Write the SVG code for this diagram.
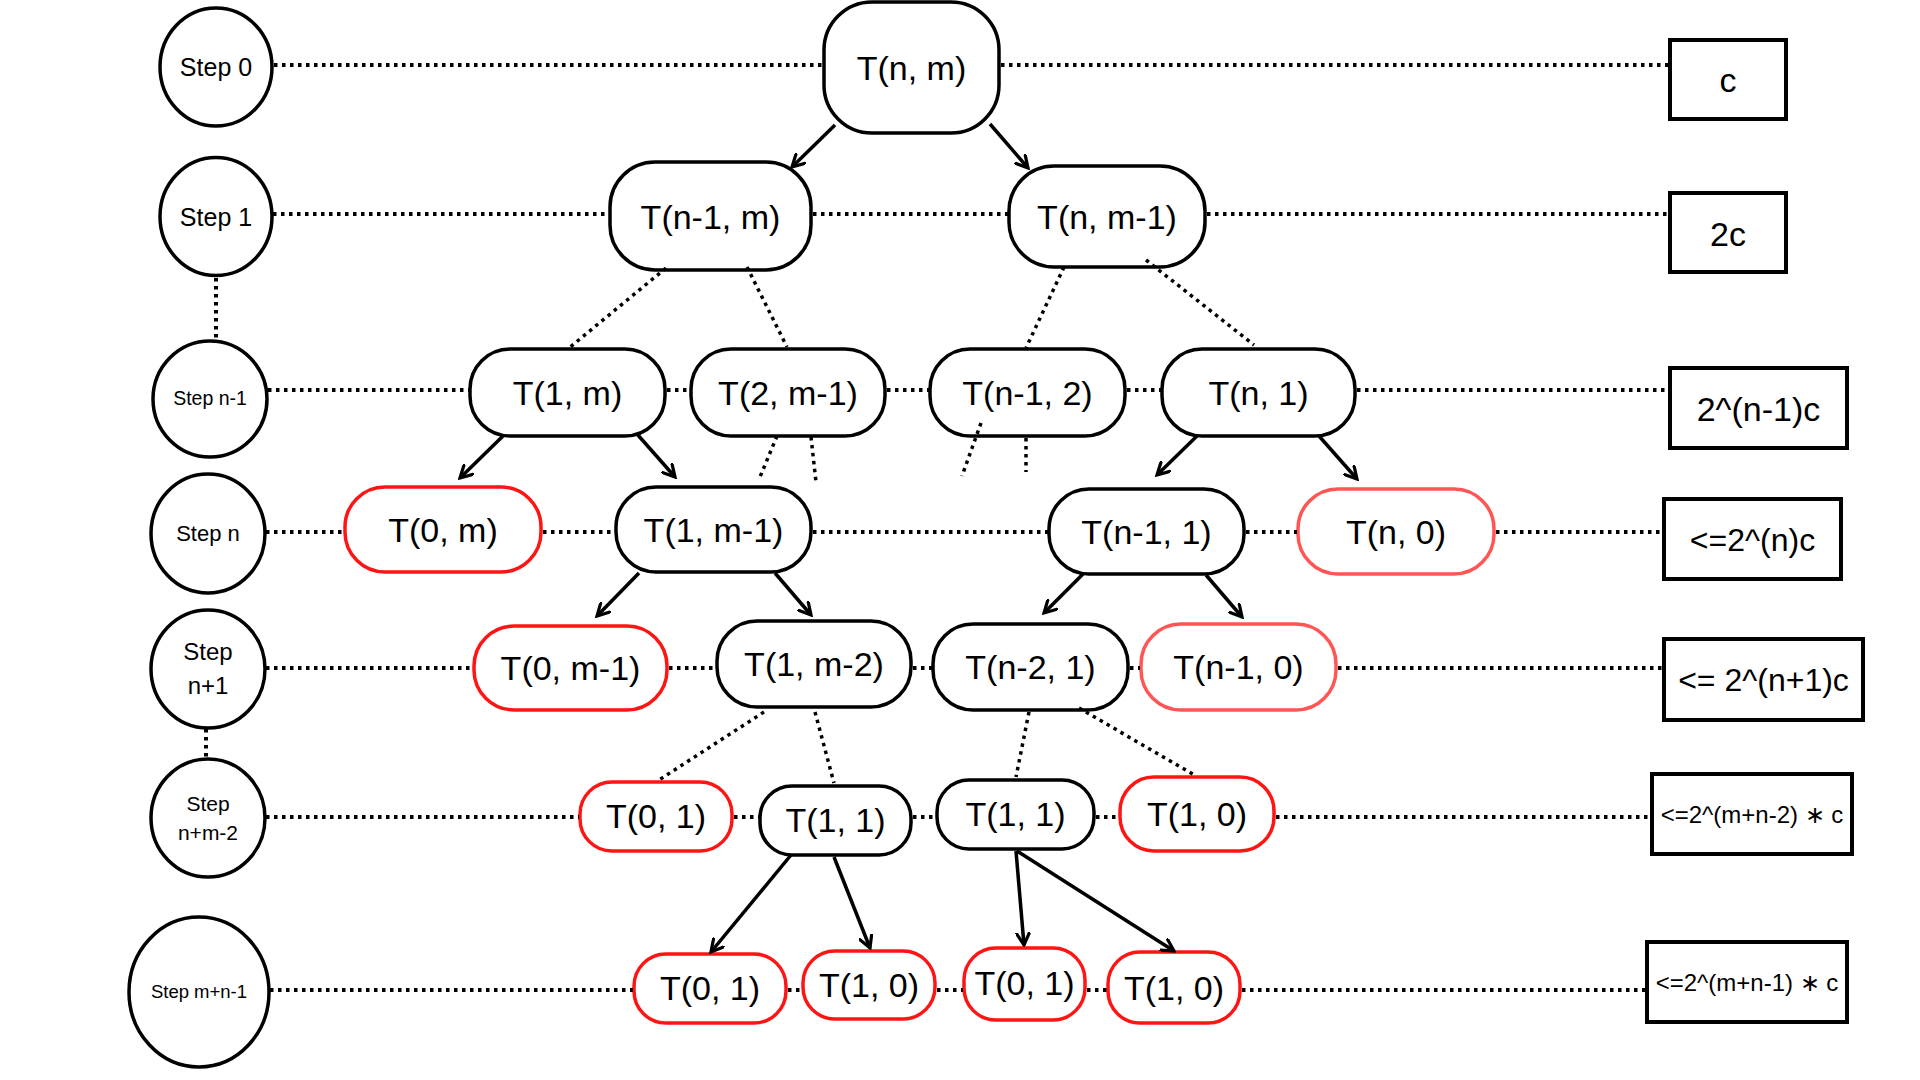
<svg xmlns="http://www.w3.org/2000/svg" width="1920" height="1080" viewBox="0 0 1920 1080">
<defs>
<marker id="arr" viewBox="0 0 14 14" refX="12" refY="7" markerWidth="15" markerHeight="15" markerUnits="userSpaceOnUse" orient="auto">
<path d="M1,1 L12,7 L1,13" fill="none" stroke="#000" stroke-width="3" stroke-linecap="round" stroke-linejoin="miter"/>
</marker>
<style>
text{font-family:"Liberation Sans",Arial,sans-serif;fill:#000;text-anchor:middle}
.step{fill:#fff;stroke:#000;stroke-width:3.5}
.nd{fill:#fff;stroke:#000;stroke-width:3.5}
.rd{fill:#fff;stroke:#ff1414;stroke-width:3.5}
.lr{fill:#fff;stroke:#ff5555;stroke-width:3.5}
.bx{fill:#fff;stroke:#000;stroke-width:4}
.nt{font-size:34px}
.dot{stroke:#000;stroke-width:4;stroke-dasharray:3.5 4.5;fill:none}
.ddot{stroke:#000;stroke-width:3.5;stroke-dasharray:3.5 4.5;fill:none}
.ar{stroke:#000;stroke-width:3.5;fill:none;marker-end:url(#arr)}
</style>
</defs>
<rect width="1920" height="1080" fill="#fff"/>

<g id="step-0"><ellipse class="step" cx="216" cy="67" rx="56" ry="59"/><text x="216" y="76" font-size="25">Step 0</text></g>
<g id="step-1"><ellipse class="step" cx="216" cy="216.5" rx="56" ry="59"/><text x="216" y="226" font-size="25">Step 1</text></g>
<g id="step-n-1"><ellipse class="step" cx="210" cy="399" rx="57" ry="58"/><text x="210" y="405" font-size="19.5">Step n-1</text></g>
<g id="step-n"><ellipse class="step" cx="208" cy="533.5" rx="57" ry="59.5"/><text x="208" y="541" font-size="22">Step n</text></g>
<g id="step-n+1"><ellipse class="step" cx="208" cy="669" rx="57" ry="59"/><text x="208" y="660" font-size="24">Step</text><text x="208" y="694" font-size="24">n+1</text></g>
<g id="step-n+m-2"><ellipse class="step" cx="208" cy="818" rx="57" ry="59"/><text x="208" y="811" font-size="21">Step</text><text x="208" y="840" font-size="21">n+m-2</text></g>
<g id="step-m+n-1"><ellipse class="step" cx="199" cy="992" rx="70" ry="75"/><text x="199" y="998" font-size="18.5">Step m+n-1</text></g>

<g id="n-T-n-m"><rect class="nd" x="824" y="2" width="175" height="131" rx="48"/><text class="nt" x="911.5" y="80">T(n, m)</text></g>

<g id="n-T-n1-m"><rect class="nd" x="610" y="162" width="201" height="108" rx="45"/><text class="nt" x="710.5" y="229">T(n-1, m)</text></g>
<g id="n-T-n-m1"><rect class="nd" x="1009" y="166" width="196" height="101" rx="45"/><text class="nt" x="1107" y="229">T(n, m-1)</text></g>

<g id="n-T-1-m"><rect class="nd" x="470" y="349" width="195" height="87" rx="40"/><text class="nt" x="567.5" y="405">T(1, m)</text></g>
<g id="n-T-2-m1"><rect class="nd" x="691" y="349" width="194" height="87" rx="40"/><text class="nt" x="788" y="405">T(2, m-1)</text></g>
<g id="n-T-n1-2"><rect class="nd" x="930" y="349" width="195" height="87" rx="40"/><text class="nt" x="1027.5" y="405">T(n-1, 2)</text></g>
<g id="n-T-n-1"><rect class="nd" x="1162" y="349" width="193" height="87" rx="40"/><text class="nt" x="1258.5" y="405">T(n, 1)</text></g>

<g id="n-T-0-m"><rect class="rd" x="345" y="487" width="196" height="85" rx="40"/><text class="nt" x="443" y="542">T(0, m)</text></g>
<g id="n-T-1-m1"><rect class="nd" x="616" y="487" width="195" height="85" rx="40"/><text class="nt" x="713.5" y="542">T(1, m-1)</text></g>
<g id="n-T-n1-1"><rect class="nd" x="1049" y="489" width="195" height="85" rx="40"/><text class="nt" x="1146.5" y="544">T(n-1, 1)</text></g>
<g id="n-T-n-0"><rect class="lr" x="1298" y="489" width="196" height="85" rx="40"/><text class="nt" x="1396" y="544">T(n, 0)</text></g>

<g id="n-T-0-m1"><rect class="rd" x="474" y="626" width="193" height="84" rx="40"/><text class="nt" x="570.5" y="680">T(0, m-1)</text></g>
<g id="n-T-1-m2"><rect class="nd" x="717" y="621" width="194" height="86" rx="40"/><text class="nt" x="814" y="676">T(1, m-2)</text></g>
<g id="n-T-n2-1"><rect class="nd" x="933" y="624" width="195" height="86" rx="40"/><text class="nt" x="1030.5" y="679">T(n-2, 1)</text></g>
<g id="n-T-n1-0"><rect class="lr" x="1141" y="624" width="195" height="86" rx="40"/><text class="nt" x="1238.5" y="679">T(n-1, 0)</text></g>

<g id="n-T-0-1-a"><rect class="rd" x="580" y="782" width="152" height="69" rx="32"/><text class="nt" x="656" y="828">T(0, 1)</text></g>
<g id="n-T-1-1-a"><rect class="nd" x="760" y="786" width="151" height="69" rx="32"/><text class="nt" x="835.5" y="832">T(1, 1)</text></g>
<g id="n-T-1-1-b"><rect class="nd" x="937" y="780" width="157" height="69" rx="32"/><text class="nt" x="1015.5" y="826">T(1, 1)</text></g>
<g id="n-T-1-0-a"><rect class="rd" x="1120" y="777" width="154" height="74" rx="34"/><text class="nt" x="1197" y="826">T(1, 0)</text></g>

<g id="n-T-0-1-b"><rect class="rd" x="634" y="954" width="152" height="69" rx="32"/><text class="nt" x="710" y="1000">T(0, 1)</text></g>
<g id="n-T-1-0-b"><rect class="rd" x="803" y="951" width="132" height="68" rx="32"/><text class="nt" x="869" y="997">T(1, 0)</text></g>
<g id="n-T-0-1-c"><rect class="rd" x="964" y="948" width="121" height="72" rx="32"/><text class="nt" x="1024.5" y="995">T(0, 1)</text></g>
<g id="n-T-1-0-c"><rect class="rd" x="1108" y="952" width="132" height="71" rx="32"/><text class="nt" x="1174" y="1000">T(1, 0)</text></g>

<g id="cost-0"><rect class="bx" x="1670" y="40" width="116" height="79"/><text class="nt" x="1728" y="91.5">c</text></g>
<g id="cost-1"><rect class="bx" x="1670" y="193" width="116" height="79"/><text class="nt" x="1728" y="246">2c</text></g>
<g id="cost-n-1"><rect class="bx" x="1670" y="368" width="177" height="80"/><text class="nt" x="1758.5" y="421">2^(n-1)c</text></g>
<g id="cost-n"><rect class="bx" x="1664" y="499" width="177" height="80"/><text x="1752.5" y="551" font-size="32">&lt;=2^(n)c</text></g>
<g id="cost-n+1"><rect class="bx" x="1664" y="639" width="199" height="81"/><text x="1763.5" y="691" font-size="32">&lt;= 2^(n+1)c</text></g>
<g id="cost-n+m-2"><rect class="bx" x="1652" y="774" width="200" height="80"/><text x="1752" y="823" font-size="24">&lt;=2^(m+n-2) ∗ c</text></g>
<g id="cost-m+n-1"><rect class="bx" x="1647" y="942" width="200" height="80"/><text x="1747" y="991" font-size="24">&lt;=2^(m+n-1) ∗ c</text></g>

<g id="connectors">
<path class="dot" d="M216,278 V338 M206,729 V758"/>
<path class="dot" d="M274,65 H823 M1001,65 H1669"/>
<path class="dot" d="M273,214 H609 M813,214 H1008 M1207,214 H1669"/>
<path class="dot" d="M268,390 H469 M667,390 H690 M887,390 H929 M1127,390 H1161 M1357,390 H1669"/>
<path class="dot" d="M266,532 H344 M543,532 H615 M813,532 H1048 M1246,532 H1297 M1496,532 H1663"/>
<path class="dot" d="M266,668 H473 M669,668 H716 M913,668 H932 M1130,668 H1140 M1338,668 H1663"/>
<path class="dot" d="M266,817 H579 M734,817 H759 M913,817 H936 M1096,817 H1119 M1276,817 H1651"/>
<path class="dot" d="M270,990 H633 M788,990 H802 M937,990 H963 M1087,990 H1107 M1242,990 H1646"/>
<path class="ddot" d="M666,268 L569,348 M747,267 L787,347 M1064,267 L1026,348 M1146,260 L1254,345"/>
<path class="ddot" d="M777,436 L760,477 M811,437 L816,482 M981,423 L962,476 M1026,438 L1026,472"/>
<path class="ddot" d="M764,712 L659,780 M815,712 L834,783 M1029,712 L1016,777 M1079,708 L1196,776"/>
<line class="ar" x1="835" y1="125" x2="792" y2="167"/>
<line class="ar" x1="990" y1="124" x2="1028" y2="168"/>
<line class="ar" x1="503" y1="436" x2="460" y2="478"/>
<line class="ar" x1="637" y1="434" x2="675" y2="477"/>
<line class="ar" x1="1197" y1="436" x2="1157" y2="475"/>
<line class="ar" x1="1319" y1="436" x2="1357" y2="479"/>
<line class="ar" x1="639" y1="573" x2="597" y2="616"/>
<line class="ar" x1="775" y1="573" x2="811" y2="615"/>
<line class="ar" x1="1083" y1="574" x2="1044" y2="613"/>
<line class="ar" x1="1206" y1="575" x2="1242" y2="617"/>
<line class="ar" x1="791" y1="855" x2="711" y2="952"/>
<line class="ar" x1="834" y1="857" x2="870" y2="948"/>
<line class="ar" x1="1016" y1="851" x2="1024" y2="945"/>
<line class="ar" x1="1017" y1="851" x2="1174" y2="951"/>
</g>
</svg>
